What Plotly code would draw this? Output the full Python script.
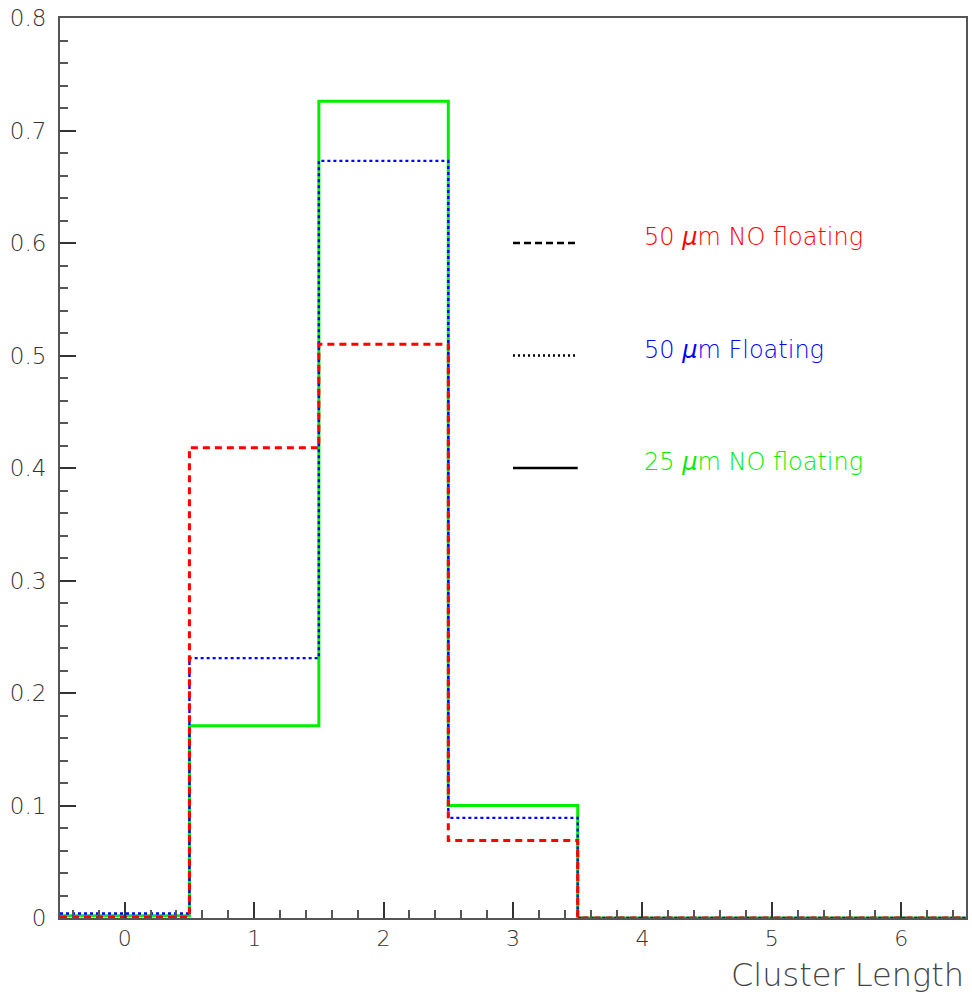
import plotly.graph_objects as go

# Cluster length histogram, bins centred on integers 0..6
bin_centres = [0, 1, 2, 3, 4, 5, 6]
nofloat_50um = [0.001, 0.418, 0.510, 0.069, 0.0, 0.0, 0.0]
float_50um = [0.004, 0.231, 0.673, 0.089, 0.0, 0.0, 0.0]
nofloat_25um = [0.002, 0.171, 0.726, 0.100, 0.0, 0.0, 0.0]

y_ticks = [0, 0.1, 0.2, 0.3, 0.4, 0.5, 0.6, 0.7, 0.8]
y_tick_text = ["0", "0.1", "0.2", "0.3", "0.4", "0.5", "0.6", "0.7", "0.8"]

labels = ["50 <i>\u03bc</i>m NO floating", "50 <i>\u03bc</i>m Floating",
          "25 <i>\u03bc</i>m NO floating"]
colors = ["#ff0000", "#0000ff", "#00ee00"]
dashes = ["7px,5px", "3px,3px", "solid"]
widths = [3, 2.4, 3]
legend_dashes = ["7px,4px", "2px,3px", "solid"]
legend_y = [0.6, 0.5, 0.4]

FONT = "DejaVu Sans"
WEIGHT = 200
AXIS_COLOR = "#555555"
TEXT_COLOR = "#333333"

edges = [c - 0.5 for c in bin_centres] + [bin_centres[-1] + 0.5]


def step(values):
    return values + [values[-1]]


fig = go.Figure()
series = [nofloat_50um, float_50um, nofloat_25um]
# draw solid first so dashed/dotted curves sit on top
for idx in [2, 1, 0]:
    fig.add_trace(go.Scatter(
        x=edges, y=step(series[idx]), mode="lines", line_shape="hv",
        line=dict(color=colors[idx], width=widths[idx], dash=dashes[idx]),
        showlegend=False, hoverinfo="skip",
    ))

# hand-made legend: black line samples with coloured labels
for i in range(3):
    fig.add_shape(type="line", xref="x", yref="y", x0=3.0, x1=3.5,
                  y0=legend_y[i], y1=legend_y[i],
                  line=dict(color="black", width=2.6, dash=legend_dashes[i]))
    fig.add_annotation(x=4.0, y=legend_y[i] + 0.005, xref="x", yref="y",
                       text=labels[i], showarrow=False, xanchor="left",
                       yanchor="middle",
                       font=dict(family=FONT, size=24, color=colors[i], weight=WEIGHT))

# axis title at the lower right corner
fig.add_annotation(x=1.0, y=-0.063, xref="paper", yref="paper",
                   text="Cluster Length", showarrow=False,
                   xanchor="right", yanchor="middle",
                   font=dict(family=FONT, size=32, color="#444444", weight=WEIGHT))

fig.update_layout(
    width=972, height=998,
    margin=dict(l=60, r=6, t=18, b=80),
    paper_bgcolor="white", plot_bgcolor="white",
    font=dict(family=FONT, color=TEXT_COLOR),
)
fig.update_xaxes(
    range=[-0.5, 6.5], tickmode="array", tickvals=bin_centres,
    ticks="inside", ticklen=16, tickwidth=2, tickcolor="#333333",
    minor=dict(ticks="inside", dtick=0.2, tick0=0, ticklen=8, tickwidth=2,
               tickcolor="#555555", showgrid=False),
    showline=True, linecolor=AXIS_COLOR, linewidth=2, mirror=True,
    showgrid=False, zeroline=False, automargin=False,
    tickfont=dict(family=FONT, size=22, color=TEXT_COLOR, weight=WEIGHT),
)
fig.update_yaxes(
    range=[0, 0.8], tickmode="array", tickvals=y_ticks, ticktext=y_tick_text,
    ticks="inside", ticklen=16, tickwidth=2, tickcolor="#333333",
    minor=dict(ticks="inside", dtick=0.02, tick0=0, ticklen=8, tickwidth=2,
               tickcolor="#555555", showgrid=False),
    showline=True, linecolor=AXIS_COLOR, linewidth=2, mirror=True,
    showgrid=False, zeroline=False, automargin=False, ticklabelstandoff=7,
    tickfont=dict(family=FONT, size=23, color=TEXT_COLOR, weight=WEIGHT),
)

fig.write_html("out.html")
